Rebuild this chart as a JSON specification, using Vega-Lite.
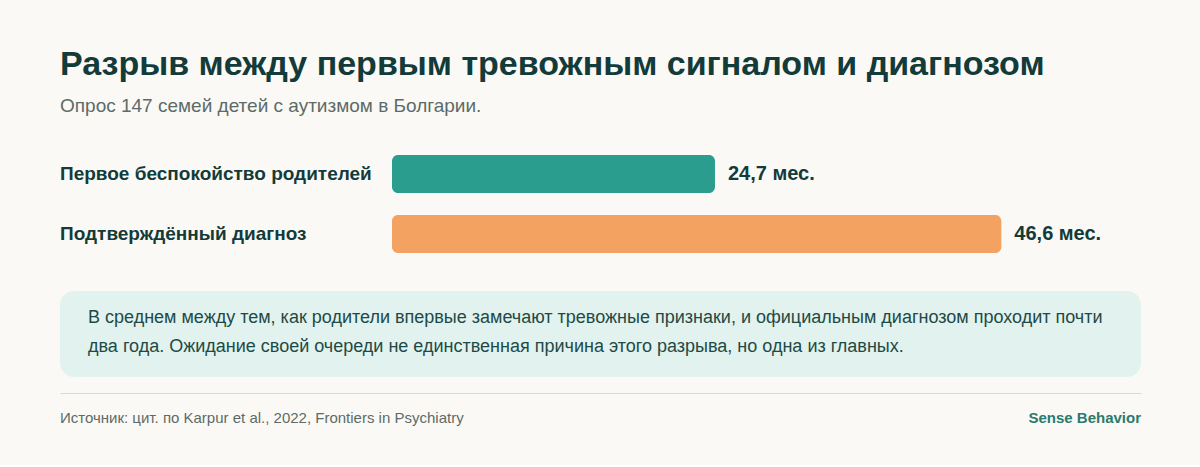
{
  "$schema": "https://vega.github.io/schema/vega-lite/v6.json",
  "background": "#FBF9F5",
  "padding": {"left": 60, "right": 59, "top": 48, "bottom": 22},
  "spacing": 16,
  "title": {
    "text": "Разрыв между первым тревожным сигналом и диагнозом",
    "subtitle": "Опрос 147 семей детей с аутизмом в Болгарии.",
    "anchor": "start",
    "frame": "group",
    "font": "Liberation Sans",
    "fontSize": 34,
    "fontWeight": "bold",
    "color": "#123B3A",
    "subtitleFont": "Liberation Sans",
    "subtitleFontSize": 19,
    "subtitleColor": "#5B6B68",
    "subtitlePadding": 15,
    "offset": 28
  },
  "config": {"view": {"stroke": null}, "font": "Liberation Sans"},
  "vconcat": [
    {
      "width": 1081,
      "height": 131,
      "data": {"values": [
        {"measure": "Первое беспокойство родителей", "months": 24.7, "label": "24,7 мес."},
        {"measure": "Подтверждённый диагноз", "months": 46.6, "label": "46,6 мес."}
      ]},
      "encoding": {
        "y": {"field": "measure", "type": "nominal", "sort": null, "axis": null,
              "scale": {"paddingInner": 0.3667, "paddingOuter": 0.275, "align": 0.333}}
      },
      "layer": [
        {
          "mark": {"type": "bar", "cornerRadius": 6},
          "encoding": {
            "x": {"field": "months", "type": "quantitative", "axis": null,
                  "scale": {"domain": [-25.39, 57.28], "nice": false, "zero": false}},
            "x2": {"datum": 0},
            "color": {"field": "measure", "type": "nominal", "legend": null,
                      "scale": {"domain": ["Первое беспокойство родителей", "Подтверждённый диагноз"], "range": ["#2A9D8F", "#F4A261"]}}
          }
        },
        {
          "mark": {"type": "text", "align": "left", "baseline": "middle", "dx": 13, "fontSize": 20, "fontWeight": "bold", "color": "#123B3A"},
          "encoding": {
            "x": {"field": "months", "type": "quantitative"},
            "text": {"field": "label"}
          }
        },
        {
          "mark": {"type": "text", "align": "left", "baseline": "middle", "fontSize": 19, "fontWeight": "bold", "color": "#123B3A"},
          "encoding": {
            "x": {"datum": -25.39, "type": "quantitative"},
            "text": {"field": "measure"}
          }
        }
      ]
    },
    {
      "width": 1081,
      "height": 86,
      "view": {"fill": "#E2F2EF", "cornerRadius": 14, "stroke": null},
      "data": {"values": [
        {"line": 1, "text": "В среднем между тем, как родители впервые замечают тревожные признаки, и официальным диагнозом проходит почти"},
        {"line": 2, "text": "два года. Ожидание своей очереди не единственная причина этого разрыва, но одна из главных."}
      ]},
      "mark": {"type": "text", "align": "left", "baseline": "middle", "fontSize": 18, "color": "#1E4A46"},
      "encoding": {
        "x": {"datum": 28, "type": "quantitative", "axis": null, "scale": {"domain": [0, 1081], "nice": false}},
        "y": {"field": "line", "type": "ordinal", "axis": null,
              "scale": {"type": "point", "padding": 1.2917, "align": 0.4726}},
        "text": {"field": "text"}
      }
    },
    {
      "width": 1081,
      "height": 50,
      "layer": [
        {
          "data": {"values": [{"text": "Источник: цит. по Karpur et al., 2022, Frontiers in Psychiatry"}]},
          "mark": {"type": "text", "align": "left", "baseline": "middle", "fontSize": 15, "color": "#5D6B68"},
          "encoding": {
            "x": {"datum": 0, "type": "quantitative",
                  "scale": {"domain": [0, 1], "nice": false},
                  "axis": {"orient": "top", "domain": true, "domainColor": "#DDD8D0", "domainWidth": 1, "ticks": false, "labels": false, "grid": false, "title": null}},
            "text": {"field": "text"}
          }
        },
        {
          "data": {"values": [{"text": "Sense Behavior"}]},
          "mark": {"type": "text", "align": "right", "baseline": "middle", "fontSize": 15, "fontWeight": "bold", "color": "#2A7A6E"},
          "encoding": {
            "x": {"datum": 1, "type": "quantitative"},
            "text": {"field": "text"}
          }
        }
      ]
    }
  ]
}
